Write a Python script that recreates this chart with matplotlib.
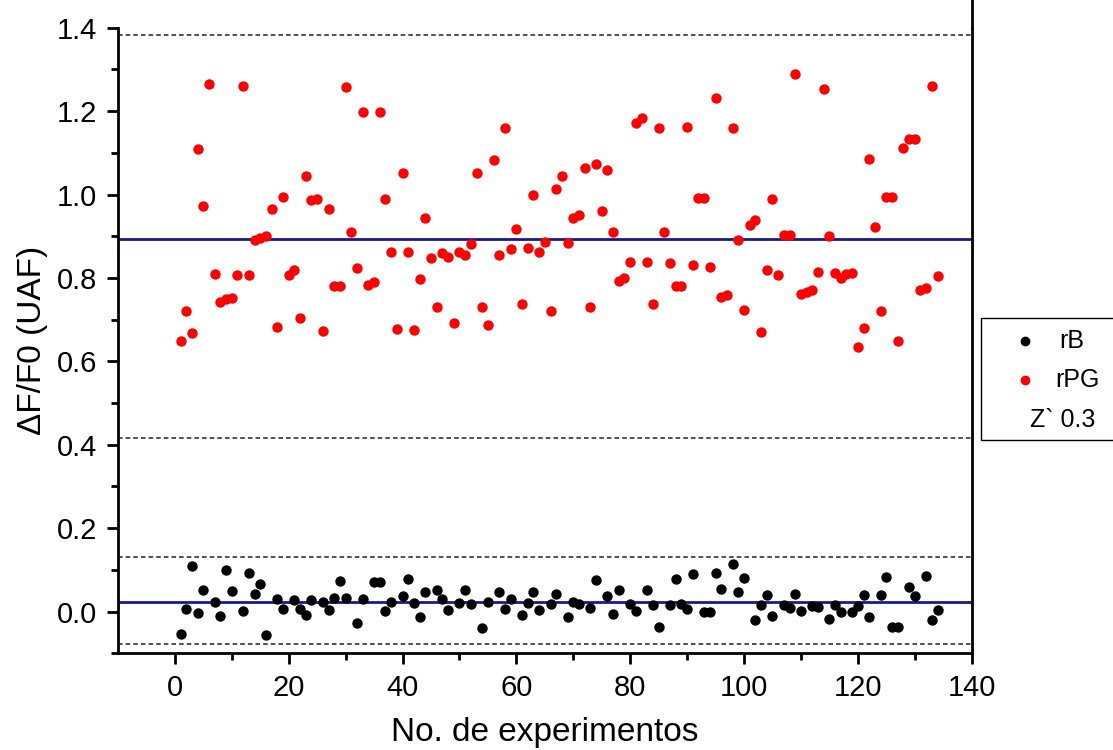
import numpy as np
import matplotlib
matplotlib.use('Agg')
import matplotlib.pyplot as plt
from matplotlib.lines import Line2D
from matplotlib.patches import Rectangle

matplotlib.rcParams['font.family'] = ['Liberation Sans', 'DejaVu Sans']

# rPG series (red), experiment number 1..134
rpg_x = list(range(1, 135))
rpg_y = [0.648, 0.72, 0.667, 1.11, 0.973, 1.266, 0.81, 0.742, 0.75, 0.752,
         0.808, 1.26, 0.808, 0.892, 0.897, 0.9, 0.965, 0.683, 0.995, 0.806,
         0.818, 0.705, 1.044, 0.986, 0.99, 0.673, 0.966, 0.78, 0.78, 1.257,
         0.91, 0.825, 1.197, 0.784, 0.79, 1.197, 0.99, 0.863, 0.678, 1.052,
         0.863, 0.675, 0.798, 0.944, 0.848, 0.73, 0.86, 0.85, 0.692, 0.863,
         0.856, 0.882, 1.052, 0.73, 0.688, 1.083, 0.856, 1.16, 0.87, 0.918,
         0.738, 0.872, 1.0, 0.863, 0.887, 0.72, 1.014, 1.045, 0.885, 0.944,
         0.95, 1.064, 0.73, 1.074, 0.961, 1.06, 0.91, 0.793, 0.8, 0.839,
         1.172, 1.184, 0.839, 0.738, 1.16, 0.91, 0.836, 0.78, 0.78, 1.163,
         0.83, 0.992, 0.992, 0.827, 1.232, 0.755, 0.76, 1.16, 0.892, 0.724,
         0.928, 0.94, 0.671, 0.82, 0.99, 0.806, 0.904, 0.904, 1.288, 0.762,
         0.767, 0.772, 0.815, 1.252, 0.9, 0.812, 0.8, 0.81, 0.812, 0.635,
         0.68, 1.086, 0.922, 0.721, 0.995, 0.995, 0.648, 1.112, 1.134, 1.134,
         0.772, 0.776, 1.26, 0.804]

# rB series (black)
rb_x = [1, 2, 3, 4, 5, 7, 8, 9, 10, 12, 13, 14, 15, 16, 18, 19, 21, 22, 23, 24,
        26, 27, 28, 29, 30, 32, 33, 35, 36, 37, 38, 40, 41, 42, 43, 44, 46, 47, 48,
        50, 51, 52, 54, 55, 57, 58, 59, 61, 62, 63, 64, 66, 67, 69, 70, 71, 73, 74,
        76, 77, 78, 80, 81, 83, 84, 85, 87, 88, 89, 90, 91, 93, 94, 95, 96, 98, 99,
        100, 102, 103, 104, 105, 107, 108, 109, 110, 112, 113, 115, 116, 117, 119,
        120, 121, 122, 124, 125, 126, 127, 129, 130, 132, 133, 134]
rb_y = [-0.055, 0.006, 0.109, -0.004, 0.051, 0.024, -0.011, 0.1, 0.05, 0.001,
        0.092, 0.042, 0.066, -0.056, 0.03, 0.005, 0.028, 0.006, -0.008, 0.027,
        0.023, 0.004, 0.033, 0.074, 0.033, -0.028, 0.031, 0.07, 0.07, 0.001,
        0.022, 0.037, 0.078, 0.02, -0.014, 0.047, 0.052, 0.03, 0.004, 0.02,
        0.052, 0.019, -0.04, 0.022, 0.048, 0.005, 0.029, -0.008, 0.02, 0.048,
        0.004, 0.017, 0.041, -0.013, 0.023, 0.017, 0.008, 0.075, 0.037, -0.006,
        0.051, 0.017, 0.002, 0.052, 0.016, -0.036, 0.015, 0.078, 0.017, 0.007,
        0.089, -0.001, -0.001, 0.093, 0.053, 0.114, 0.048, 0.081, -0.02, 0.016,
        0.04, -0.01, 0.016, 0.008, 0.042, 0.002, 0.013, 0.01, -0.019, 0.015,
        0.0, 0.0, 0.013, 0.04, -0.012, 0.04, 0.083, -0.036, -0.036, 0.058,
        0.037, 0.085, -0.02, 0.004]

# Reference lines: means (blue) and limits (dashed)
mean_lines = [0.894, 0.022]
limit_lines = [1.383, 0.415, 0.13, -0.078]

fig = plt.figure(figsize=(11.13, 7.5), dpi=100)
ax = fig.add_axes([0.106, 0.129, 0.767, 0.834])

for yv in limit_lines:
    ax.axhline(yv, color='#222222', linestyle=(0, (3, 2)), linewidth=1.1, zorder=1)
for yv in mean_lines:
    ax.axhline(yv, color='#1a1a8c', linewidth=2.0, zorder=2)

ax.scatter(rb_x, rb_y, s=56, color='black', zorder=3, linewidths=0)
ax.scatter(rpg_x, rpg_y, s=56, color='#ff0000', zorder=3, linewidths=0)

ax.set_xlim(-10, 140)
ax.set_ylim(-0.1, 1.4)
ax.set_xticks(np.arange(0, 141, 20))
ax.set_xticks(np.arange(10, 140, 20), minor=True)
ax.set_yticks(np.arange(0, 1.41, 0.2))
ax.set_yticks(np.arange(-0.1, 1.41, 0.1), minor=True)
ax.yaxis.set_major_formatter(matplotlib.ticker.FormatStrFormatter('%.1f'))

ax.spines['top'].set_visible(False)
for s in ['left', 'bottom', 'right']:
    ax.spines[s].set_linewidth(2.0)
ax.axvline(140, ymin=1.0, ymax=1.05, color='black', linewidth=2.0, clip_on=False)

ax.tick_params(which='major', direction='out', length=8, width=2, labelsize=21, pad=7)
ax.tick_params(which='minor', direction='out', length=5, width=2)
ax.tick_params(axis='y', right=False, which='both')

ax.set_xlabel('No. de experimentos', fontsize=24, labelpad=11)
ax.set_ylabel('ΔF/F0 (UAF)', fontsize=24, labelpad=6,
              family=['Liberation Sans Narrow', 'Liberation Sans', 'DejaVu Sans'])

# legend box drawn by hand (it runs off the right edge in the original)
fig.add_artist(Rectangle((0.8814, 0.4133), 0.16, 0.1627, transform=fig.transFigure,
                         facecolor='white', edgecolor='black', linewidth=1.0))
fig.add_artist(Line2D([0.921], [0.545], transform=fig.transFigure, marker='o',
                      color='black', markersize=6, linestyle='none'))
fig.add_artist(Line2D([0.921], [0.493], transform=fig.transFigure, marker='o',
                      color='#ff0000', markersize=6, linestyle='none'))
fig.text(0.952, 0.545, 'rB', fontsize=18, va='center', ha='left')
fig.text(0.948, 0.493, 'rPG', fontsize=18, va='center', ha='left')
fig.text(0.9254, 0.44, 'Z` 0.3', fontsize=18, va='center', ha='left')

fig.savefig('out.png', dpi=100)
